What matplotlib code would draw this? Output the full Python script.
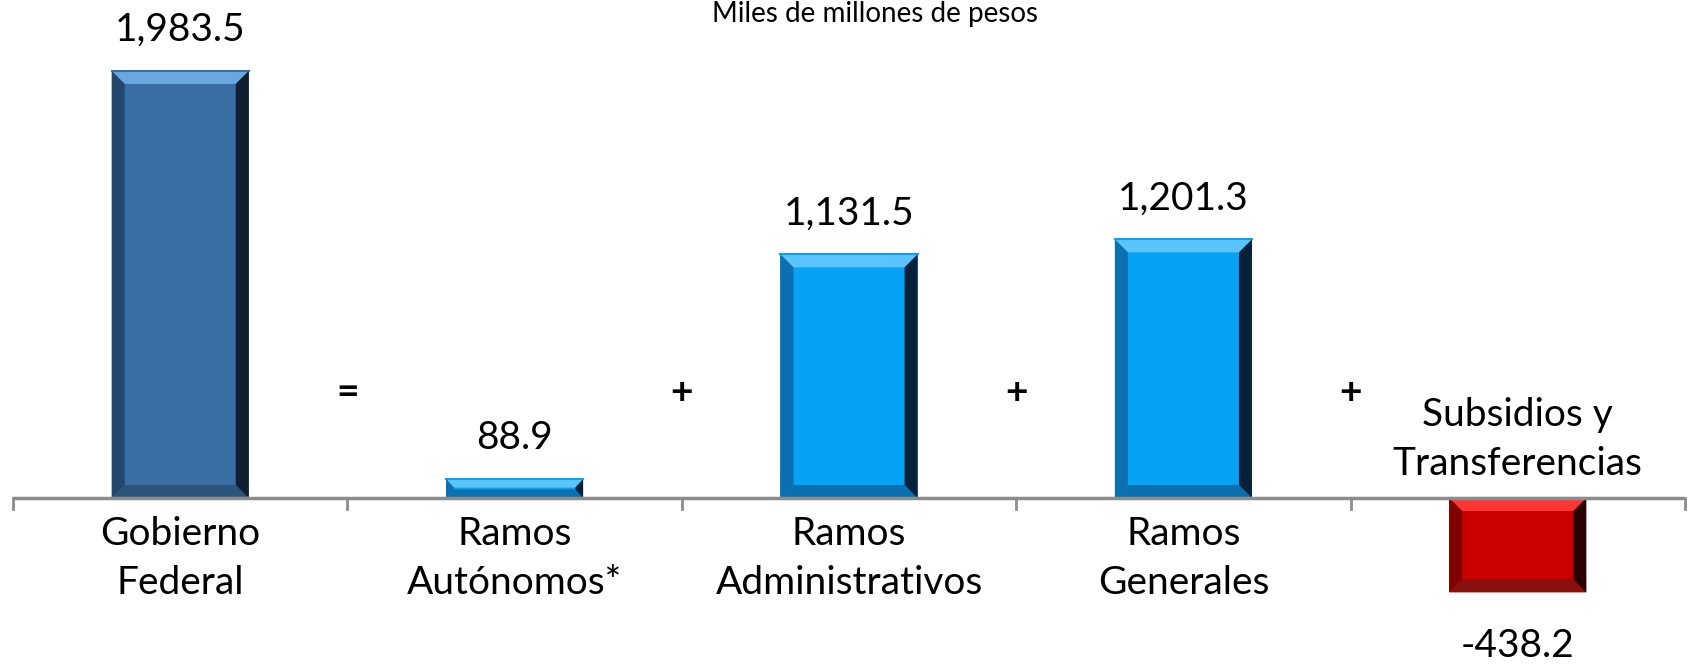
import matplotlib.pyplot as plt
from matplotlib.patches import Polygon
import numpy as np

plt.rcParams["font.family"] = ["Lato", "DejaVu Sans"]

categories = ["Gobierno\nFederal", "Ramos\nAutónomos*", "Ramos\nAdministrativos",
              "Ramos\nGenerales", "Subsidios y\nTransferencias"]
values = [1983.5, 88.9, 1131.5, 1201.3, -438.2]
value_labels = ["1,983.5", "88.9", "1,131.5", "1,201.3", "-438.2"]
operators = ["=", "+", "+", "+"]
title = "Miles de millones de pesos"

# face, highlight (top), left, right, bottom
palettes = {
    "dark": ("#386ea3", "#6aa7de", "#24486d", "#111f30", "#2b5479"),
    "light": ("#06a2f5", "#5cc4fb", "#0b6fb0", "#06223a", "#0a70b0"),
    "red": ("#cc0000", "#ff3535", "#800000", "#2b0000", "#8a1010"),
}
styles = ["dark", "light", "light", "light", "red"]

fig = plt.figure(figsize=(16.88, 6.66), dpi=100)
ax = fig.add_axes([13 / 1688, 0, (1685 - 13) / 1688, 1])
x = np.arange(len(values))
ax.set_xlim(-0.5, len(values) - 0.5)
ax.set_ylim(-780, 2313)

bars = ax.bar(x, values, width=0.41, color=[palettes[s][0] for s in styles], zorder=2)

# bevel edges, sized in pixels
to_data = ax.transData.inverted()
p0 = to_data.transform((0, 0))
p1 = to_data.transform((13, 13))
bx, by = p1[0] - p0[0], p1[1] - p0[1]
for b, s in zip(bars, styles):
    face, hi, left, right, bot = palettes[s]
    x0, x1 = b.get_x(), b.get_x() + b.get_width()
    y0, y1 = sorted((b.get_y(), b.get_y() + b.get_height()))
    dy = min(by, (y1 - y0) / 2.2)
    dx = bx
    if y1 - y0 < 2 * by:
        dx = bx * 0.6
    quads = [
        ([(x0, y1), (x1, y1), (x1 - dx, y1 - dy), (x0 + dx, y1 - dy)], hi),
        ([(x0, y0), (x1, y0), (x1 - dx, y0 + dy), (x0 + dx, y0 + dy)], bot),
        ([(x0, y0), (x0, y1), (x0 + dx, y1 - dy), (x0 + dx, y0 + dy)], left),
        ([(x1, y0), (x1, y1), (x1 - dx, y1 - dy), (x1 - dx, y0 + dy)], right),
    ]
    for pts, c in quads:
        ax.add_patch(Polygon(pts, closed=True, facecolor=c, edgecolor="none", zorder=3))
    ax.plot([x0, x1], [y1, y1], color=face, lw=1.5, zorder=4)

# axis line and ticks
ax.axhline(0, color="#8c8c8c", lw=2.5, zorder=5)
for t in np.arange(-0.5, len(values), 1.0):
    ax.plot([t, t], [0, -50], color="#8c8c8c", lw=2, zorder=5, clip_on=False)

for spine in ax.spines.values():
    spine.set_visible(False)
ax.set_xticks([])
ax.set_yticks([])

# value labels
for b, v, lab in zip(bars, values, value_labels):
    cx = b.get_x() + b.get_width() / 2
    if v >= 0:
        ax.text(cx, v + 190, lab, ha="center", va="center", fontsize=28)
    else:
        ax.text(cx, v - 250, lab, ha="center", va="center", fontsize=28)

# category labels
for i, (cat, v) in enumerate(zip(categories, values)):
    if v >= 0:
        ax.text(i, -280, cat, ha="center", va="center", fontsize=28, linespacing=1.45)
    else:
        ax.text(i, 272, cat, ha="center", va="center", fontsize=28, linespacing=1.45)

# operators
for i, op in enumerate(operators):
    ax.text(i + 0.5, 490, op, ha="center", va="center", fontsize=28, fontweight="bold")

fig.text(875 / 1688, 1 - 1 / 666, title, ha="center", va="top", fontsize=20)

fig.savefig("out.png", dpi=100, facecolor="white")
